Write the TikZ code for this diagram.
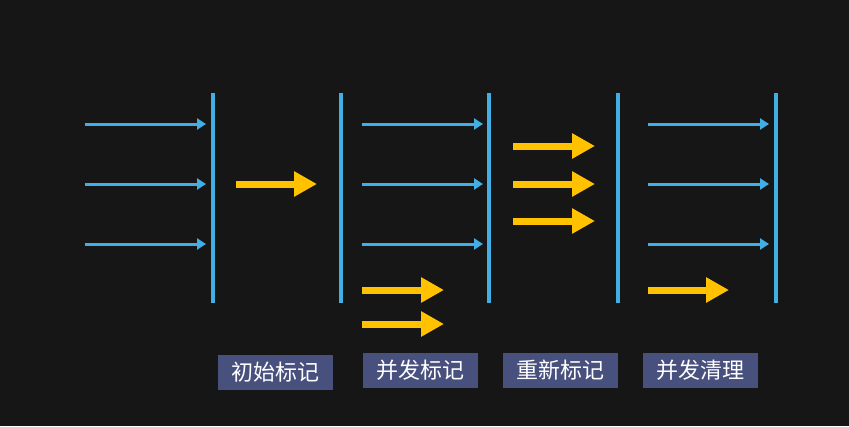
\documentclass[tikz,border=0pt]{standalone}
\usepackage{fontspec}
\newfontfamily\cjk{Noto Sans CJK SC}
\usepackage{xcolor}
\usetikzlibrary{arrows.meta}

\definecolor{board}{RGB}{22,22,22}
\definecolor{lineblue}{RGB}{66,174,230}
\definecolor{markgold}{RGB}{255,193,0}
\definecolor{tagblue}{RGB}{72,80,126}

\begin{document}
\begin{tikzpicture}[
        x=1pt, y=-1pt,
        wall/.style={draw=lineblue, line width=3.2pt},
        refarrow/.style={-{Triangle[length=9pt, width=11pt]}, draw=lineblue, line width=3pt, fill=lineblue},
        goldarrow/.style={-{Triangle[length=23pt, width=24pt]}, draw=markgold, line width=7pt, fill=markgold},
        tag/.style={rectangle, fill=tagblue, text=white, minimum width=115pt, minimum height=35pt, inner sep=0pt, font=\cjk\fontsize{22}{22}\selectfont}
    ]
        \fill[board] (0,0) rectangle (849,426);

        % walls
        \coordinate (w1t) at (213,93);  \coordinate (w1b) at (213,303);
        \coordinate (w2t) at (341,93);  \coordinate (w2b) at (341,303);
        \coordinate (w3t) at (489,93);  \coordinate (w3b) at (489,303);
        \coordinate (w4t) at (618,93);  \coordinate (w4b) at (618,303);
        \coordinate (w5t) at (776,93);  \coordinate (w5b) at (776,303);
        \draw[wall] (w1t) -- (w1b);
        \draw[wall] (w2t) -- (w2b);
        \draw[wall] (w3t) -- (w3b);
        \draw[wall] (w4t) -- (w4b);
        \draw[wall] (w5t) -- (w5b);

        % initial mark
        \coordinate (a1s) at (85,124);  \coordinate (a1e) at (206,124);
        \coordinate (a2s) at (85,184);  \coordinate (a2e) at (206,184);
        \coordinate (a3s) at (85,244);  \coordinate (a3e) at (206,244);
        \draw[refarrow] (a1s) -- (a1e);
        \draw[refarrow] (a2s) -- (a2e);
        \draw[refarrow] (a3s) -- (a3e);
        \coordinate (g1s) at (236,184); \coordinate (g1e) at (317,184);
        \draw[goldarrow] (g1s) -- (g1e);

        % concurrent mark
        \coordinate (b1s) at (362,124); \coordinate (b1e) at (483,124);
        \coordinate (b2s) at (362,184); \coordinate (b2e) at (483,184);
        \coordinate (b3s) at (362,244); \coordinate (b3e) at (483,244);
        \draw[refarrow] (b1s) -- (b1e);
        \draw[refarrow] (b2s) -- (b2e);
        \draw[refarrow] (b3s) -- (b3e);
        \coordinate (g2s) at (362,290); \coordinate (g2e) at (444,290);
        \coordinate (g3s) at (362,324); \coordinate (g3e) at (444,324);
        \draw[goldarrow] (g2s) -- (g2e);
        \draw[goldarrow] (g3s) -- (g3e);

        % remark
        \coordinate (g4s) at (513,146); \coordinate (g4e) at (595,146);
        \coordinate (g5s) at (513,184); \coordinate (g5e) at (595,184);
        \coordinate (g6s) at (513,221); \coordinate (g6e) at (595,221);
        \draw[goldarrow] (g4s) -- (g4e);
        \draw[goldarrow] (g5s) -- (g5e);
        \draw[goldarrow] (g6s) -- (g6e);

        % concurrent sweep
        \coordinate (c1s) at (648,124); \coordinate (c1e) at (769,124);
        \coordinate (c2s) at (648,184); \coordinate (c2e) at (769,184);
        \coordinate (c3s) at (648,244); \coordinate (c3e) at (769,244);
        \draw[refarrow] (c1s) -- (c1e);
        \draw[refarrow] (c2s) -- (c2e);
        \draw[refarrow] (c3s) -- (c3e);
        \coordinate (g7s) at (648,290); \coordinate (g7e) at (729,290);
        \draw[goldarrow] (g7s) -- (g7e);

        % phase labels
        \node[tag] (initmark) at (275,372.5) {初始标记};
        \node[tag] (concmark) at (420,370.5) {并发标记};
        \node[tag] (remark) at (560,370.5) {重新标记};
        \node[tag] (sweep) at (700,370.5) {并发清理};
    \end{tikzpicture}
\end{document}
